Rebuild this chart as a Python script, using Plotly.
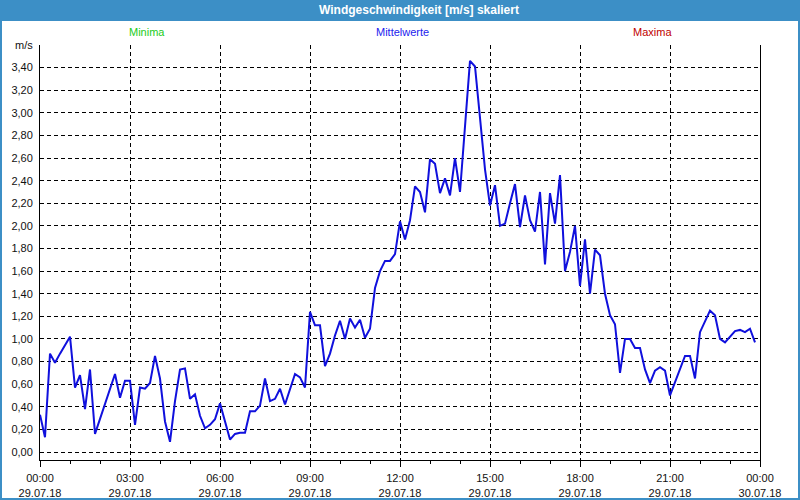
import plotly.graph_objects as go
import pandas as pd

# ---- data (10-minute means, m/s) ----
values = [
    0.33, 0.13, 0.87, 0.79, 0.87, 0.95,   # 00:00
    1.02, 0.57, 0.68, 0.38, 0.73, 0.16,   # 01:00
    0.29, 0.42, 0.56, 0.69, 0.48, 0.63,   # 02:00
    0.63, 0.24, 0.57, 0.56, 0.61, 0.85,   # 03:00
    0.65, 0.27, 0.09, 0.45, 0.73, 0.74,   # 04:00
    0.47, 0.51, 0.32, 0.21, 0.24, 0.29,   # 05:00
    0.43, 0.28, 0.11, 0.16, 0.17, 0.17,   # 06:00
    0.36, 0.36, 0.41, 0.65, 0.45, 0.47,   # 07:00
    0.56, 0.42, 0.56, 0.69, 0.66, 0.57,   # 08:00
    1.24, 1.12, 1.12, 0.76, 0.87, 1.03,   # 09:00
    1.16, 1.00, 1.18, 1.10, 1.17, 1.01,   # 10:00
    1.09, 1.45, 1.60, 1.69, 1.69, 1.75,   # 11:00
    2.04, 1.88, 2.05, 2.35, 2.30, 2.12,   # 12:00
    2.59, 2.55, 2.29, 2.42, 2.27, 2.60,   # 13:00
    2.30, 2.85, 3.46, 3.41, 2.96, 2.50,   # 14:00
    2.18, 2.36, 2.00, 2.02, 2.20, 2.37,   # 15:00
    1.99, 2.27, 2.05, 1.95, 2.30, 1.66,   # 16:00
    2.29, 2.02, 2.45, 1.60, 1.77, 2.00,   # 17:00
    1.47, 1.88, 1.40, 1.79, 1.74, 1.40,   # 18:00
    1.21, 1.13, 0.70, 1.00, 1.00, 0.92,   # 19:00
    0.92, 0.73, 0.61, 0.72, 0.75, 0.72,   # 20:00
    0.50, 0.62, 0.74, 0.85, 0.85, 0.65,   # 21:00
    1.06, 1.15, 1.25, 1.21, 1.00, 0.97,   # 22:00
    1.02, 1.07, 1.08, 1.06, 1.09, 0.97,   # 23:00
]
start = "2018-07-29 00:00"
end = "2018-07-30 00:00"
times = pd.date_range(start, periods=len(values), freq="10min")

y_ticks = [round(i * 0.2, 2) for i in range(19)]
y_labels = [f"{v:.2f}".replace(".", ",") for v in y_ticks[:-1]] + ["m/s"]
x_ticks = list(pd.date_range(start, end, freq="3h"))
x_labels = [f"{t:%H:%M}<br>{t:%d.%m.%y}" for t in x_ticks]
x_minor = list(pd.date_range(start, end, freq="1h"))

title = "Windgeschwindigkeit [m/s] skaliert"
legend_labels = ["Minima", "Mittelwerte", "Maxima"]
legend_colors = ["#22cc22", "#2222ee", "#c00000"]

FONT = "Liberation Sans"
BLUE = "#3c8fc6"
TXT = "#111111"

fig = go.Figure()
fig.add_trace(go.Scatter(x=times, y=values, mode="lines",
                         line=dict(color="#1010dd", width=2),
                         showlegend=False, hoverinfo="x+y"))

# plot area: x 40..760 px, y 45..460 px
L, R, T, B = 40, 40, 45, 40
PW, PH = 800 - L - R, 500 - T - B


def px(xp):
    return (xp - L) / PW


def py(yp):
    return (500 - B - yp) / PH


fig.update_layout(
    width=800, height=500,
    margin=dict(l=L, r=R, t=T, b=B, pad=0, autoexpand=False),
    paper_bgcolor="white", plot_bgcolor="white",
    font=dict(family=FONT, size=11, color=TXT),
    showlegend=False,
    xaxis=dict(
        type="date", range=[start, end], automargin=False,
        tickmode="array", tickvals=x_ticks, ticktext=x_labels,
        showgrid=True, gridcolor="black", gridwidth=1, griddash="4px,3px",
        showline=True, linecolor="black", linewidth=1,
        ticks="outside", ticklen=6, tickcolor="black", tickwidth=1,
        ticklabelstandoff=2,
        minor=dict(tickmode="array", tickvals=x_minor, ticks="outside",
                   ticklen=3, tickcolor="black", showgrid=False),
        zeroline=False, fixedrange=True,
        tickfont=dict(family=FONT, size=11, color=TXT),
    ),
    yaxis=dict(
        range=[-0.0708, 3.6], automargin=False,
        tickmode="array", tickvals=y_ticks, ticktext=y_labels,
        showgrid=True, gridcolor="black", gridwidth=1, griddash="4px,3px",
        showline=True, mirror=True, linecolor="black", linewidth=1,
        ticks="", ticklabelstandoff=4,
        zeroline=False, fixedrange=True,
        tickfont=dict(family=FONT, size=11, color=TXT),
    ),
)

# title bar and frame
fig.add_shape(type="rect", xref="paper", yref="paper",
              x0=px(0), x1=px(800), y0=py(21), y1=py(0),
              fillcolor=BLUE, line=dict(width=0), layer="above")
fig.add_shape(type="rect", xref="paper", yref="paper",
              x0=px(1), x1=px(799), y0=py(499), y1=py(1),
              fillcolor="rgba(0,0,0,0)", line=dict(color=BLUE, width=2),
              layer="above")

fig.add_annotation(text="<b>" + title + "</b>", xref="paper", yref="paper",
                   x=px(419), y=py(10.5), xanchor="center", yanchor="middle",
                   showarrow=False,
                   font=dict(family=FONT, size=12, color="white"))

legend_x = [147, 402, 652]
for lab, col, xp in zip(legend_labels, legend_colors, legend_x):
    fig.add_annotation(text=lab, xref="paper", yref="paper",
                       x=px(xp), y=py(32), xanchor="center", yanchor="middle",
                       showarrow=False, font=dict(family=FONT, size=11, color=col))

fig.write_html("out.html")
